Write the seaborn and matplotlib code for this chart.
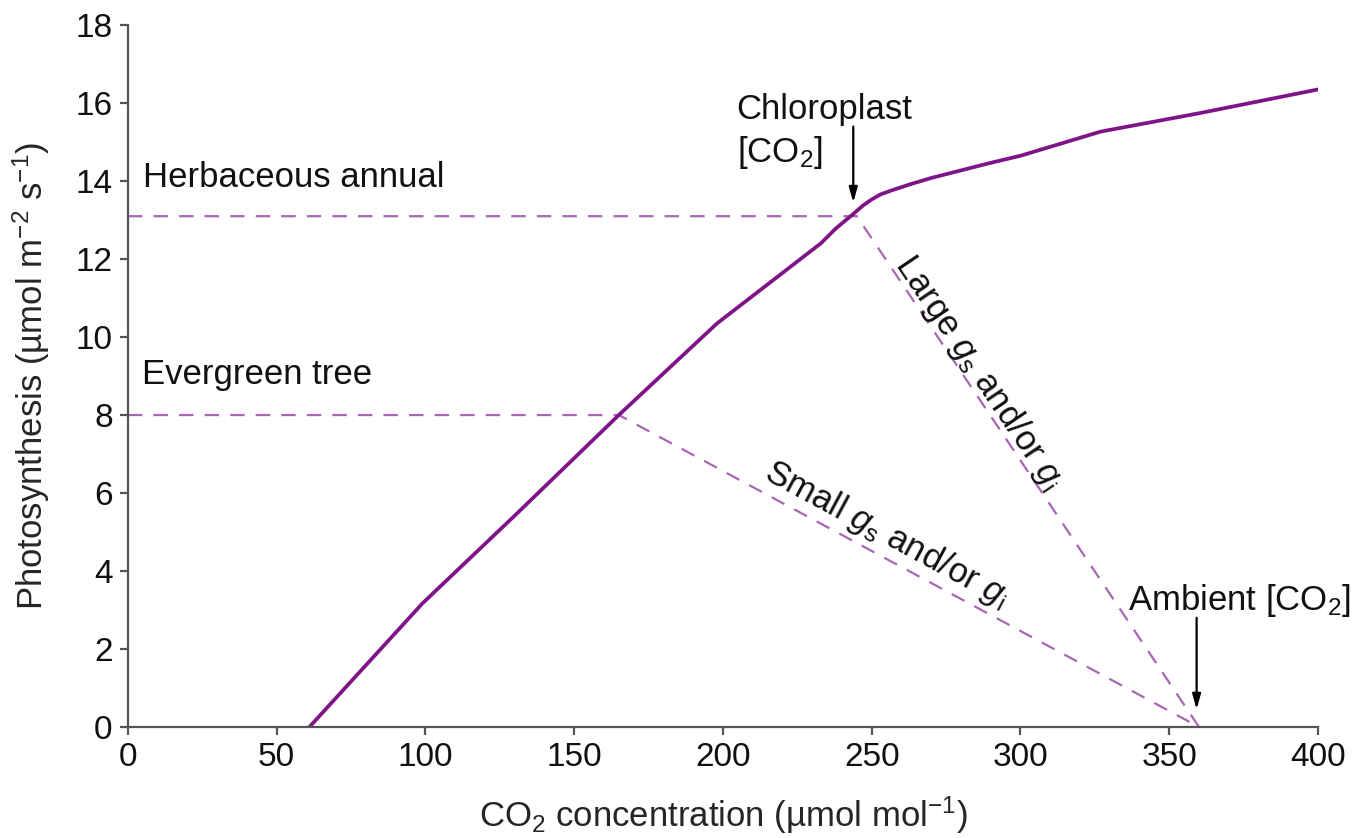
import matplotlib
matplotlib.use("Agg")
import matplotlib.pyplot as plt
import seaborn as sns
import pandas as pd

# ---- data ----
co2 = [61, 99, 130, 165, 198, 215, 233, 238, 241, 244, 247, 250, 253, 257, 263, 270, 289, 300, 327, 360, 400]
photo = [0.0, 3.17, 5.42, 8.0, 10.35, 11.35, 12.41, 12.79, 12.98, 13.17, 13.37, 13.53, 13.66, 13.77,
         13.92, 14.08, 14.45, 14.65, 15.27, 15.74, 16.35]

large_x = [0, 245, 360]
large_y = [13.1, 13.1, 0]
small_x = [0, 165, 360]
small_y = [8.0, 8.0, 0]

x_ticks = [0, 50, 100, 150, 200, 250, 300, 350, 400]
y_ticks = [0, 2, 4, 6, 8, 10, 12, 14, 16, 18]

chloroplast_x = 243.8
ambient_x = 359.2

sns.set_style("ticks")
plt.rcParams['font.family'] = ['Liberation Sans', 'DejaVu Sans']
plt.rcParams['mathtext.fontset'] = 'custom'
plt.rcParams['mathtext.rm'] = 'Liberation Sans'
plt.rcParams['mathtext.it'] = 'Liberation Sans:italic'
plt.rcParams['mathtext.bf'] = 'Liberation Sans:bold'

curve_col = "#7e1488"
dash_col = "#a866b4"
axis_col = "#555555"

fig, ax = plt.subplots(figsize=(13.61, 8.38), dpi=100)
fig.subplots_adjust(left=0.094, right=0.9684, bottom=0.1325, top=0.970)

df_curve = pd.DataFrame({"co2": co2, "photo": photo})
df_large = pd.DataFrame({"co2": large_x, "photo": large_y})
df_small = pd.DataFrame({"co2": small_x, "photo": small_y})

sns.lineplot(data=df_large, x="co2", y="photo", ax=ax, color=dash_col, lw=1.6,
             dashes=False, sort=False, estimator=None)
sns.lineplot(data=df_small, x="co2", y="photo", ax=ax, color=dash_col, lw=1.6,
             dashes=False, sort=False, estimator=None)
for ln in ax.lines:
    ln.set_dashes((6.5, 5))
sns.lineplot(data=df_curve, x="co2", y="photo", ax=ax, color=curve_col, lw=2.7,
             sort=False, estimator=None)
ax.lines[-1].set_solid_joinstyle("round")

ax.set_xlim(0, 400)
ax.set_ylim(0, 18)
ax.set_xticks(x_ticks)
ax.set_yticks(y_ticks)
ax.set_xticklabels([str(v) for v in x_ticks])
ax.set_yticklabels([str(v) for v in y_ticks])

sns.despine(ax=ax)
for s in ["left", "bottom"]:
    ax.spines[s].set_color(axis_col)
    ax.spines[s].set_linewidth(1.6)
ax.tick_params(axis="both", length=6, width=1.6, color=axis_col, labelsize=24,
               labelcolor="#111111", pad=5)

ax.set_xlabel("CO$_2$ concentration (µmol mol$^{-1}$)", fontsize=25, labelpad=15)
ax.set_ylabel("Photosynthesis (µmol m$^{-2}$ s$^{-1}$)", fontsize=25, labelpad=17)

txt_kw = dict(fontsize=25, color="#111111")
ax.text(5.0, 13.85, "Herbaceous annual", ha="left", va="baseline", **txt_kw)
ax.text(4.6, 8.79, "Evergreen tree", ha="left", va="baseline", **txt_kw)
ax.text(204.6, 15.6, "Chloroplast", ha="left", va="baseline", **txt_kw)
ax.text(204.6, 14.5, "[CO$_2$]", ha="left", va="baseline", **txt_kw)
ax.text(336.0, 3.0, "Ambient [CO$_2$]", ha="left", va="baseline", **txt_kw)
ax.text(286.0, 9.1, r"Large $g_\mathrm{s}$ and/or $g_\mathrm{i}$", ha="center", va="center",
        rotation=-56, rotation_mode="anchor", **txt_kw)
ax.text(255.0, 4.95, r"Small $g_\mathrm{s}$ and/or $g_\mathrm{i}$", ha="center", va="center",
        rotation=-28.3, rotation_mode="anchor", **txt_kw)

arrow_kw = dict(arrowstyle="-|>,head_length=0.9,head_width=0.25", color="black", lw=1.6,
                shrinkA=0, shrinkB=0)
ax.annotate("", xy=(chloroplast_x, 13.45), xytext=(chloroplast_x, 15.4), arrowprops=arrow_kw)
ax.annotate("", xy=(ambient_x, 0.45), xytext=(ambient_x, 2.8), arrowprops=arrow_kw)

fig.savefig("out.png", dpi=100)
